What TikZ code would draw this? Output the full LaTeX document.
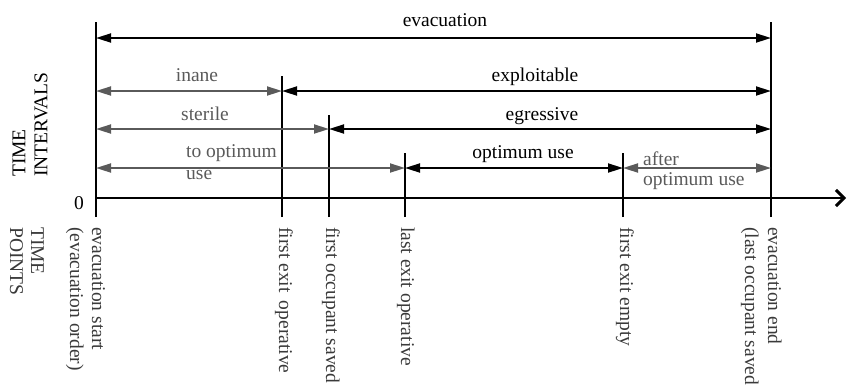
\documentclass[tikz,border=0pt]{standalone}
\usepackage{fontspec}
\setmainfont{Liberation Serif}
\usetikzlibrary{arrows.meta}
\definecolor{gr}{HTML}{5A5A5A}
\definecolor{lbl}{HTML}{3A3A3A}
\begin{document}
\begin{tikzpicture}[x=1pt,y=-1pt,
  every node/.style={inner sep=0pt, font=\fontsize{19.5}{21}\selectfont},
  ivlbk/.style={line width=1.8pt, black, {Triangle[length=15pt,width=9pt]}-{Triangle[length=15pt,width=9pt]}},
  ivlgr/.style={ivlbk, gr},
  tickln/.style={line width=1.2pt, black},
  axisln/.style={line width=2pt, black, -{Straight Barb[length=8pt,width=16pt,line width=3pt]}},
  toplbl/.style={anchor=base},
  ptlbl/.style={rotate=-90, anchor=west, lbl, text height=13pt, text depth=4pt},
  grlbl/.style={anchor=base, gr}]
\useasboundingbox (0,0) rectangle (855,384);

% tick coordinates
\coordinate (b0) at (96,217);   \coordinate (u0) at (96,22);
\coordinate (b1) at (282,217);  \coordinate (u1) at (282,76);
\coordinate (b2) at (329,217);  \coordinate (u2) at (329,115);
\coordinate (b3) at (405,217);  \coordinate (u3) at (405,153);
\coordinate (b4) at (623,217);  \coordinate (u4) at (623,153);
\coordinate (b5) at (771,217);  \coordinate (u5) at (771,22);
\coordinate (ax0) at (96,198);  \coordinate (ax1) at (846,198);

% ticks and axis
\foreach \i in {0,...,5} \draw[tickln] (b\i) -- (u\i);
\draw[axisln] (ax0) -- (ax1);

% interval arrow ends
\coordinate (e0) at (96,38);  \coordinate (e5) at (771,38);
\coordinate (i0) at (96,91);  \coordinate (i1) at (282,91); \coordinate (i5) at (771,91);
\coordinate (s0) at (96,129); \coordinate (s2) at (329,129); \coordinate (s5) at (771,129);
\coordinate (o0) at (96,168); \coordinate (o3) at (405,168); \coordinate (o4) at (623,168); \coordinate (o5) at (771,168);

\draw[ivlbk] (e0) -- (e5);
\draw[ivlgr] (i0) -- (i1);
\draw[ivlbk] (i1) -- (i5);
\draw[ivlgr] (s0) -- (s2);
\draw[ivlbk] (s2) -- (s5);
\draw[ivlgr] (o0) -- (o3);
\draw[ivlbk] (o3) -- (o4);
\draw[ivlgr] (o4) -- (o5);

% interval labels
\node[toplbl] (levac) at (445,26.5) {evacuation};
\node[grlbl] (linane) at (197,81.5) {inane};
\node[toplbl] (lexpl) at (535,81.5) {exploitable};
\node[grlbl] (lster) at (205,120) {sterile};
\node[toplbl] (legr) at (542,120) {egressive};
\node[grlbl, anchor=base west] (lto1) at (186,157.5) {to optimum};
\node[grlbl, anchor=base west] (lto2) at (186,179) {use};
\node[toplbl] (lopt) at (523,158) {optimum use};
\node[grlbl, anchor=base west] (laft1) at (643,165) {after};
\node[grlbl, anchor=base west] (laft2) at (643,185.5) {optimum use};

\node (zero) at (79,203) {0};

% axis titles
\node[rotate=90, anchor=west] (ti1) at (19,177) {TIME};
\node[rotate=90, anchor=west] (ti2) at (41,177) {INTERVALS};
\node[rotate=-90, anchor=west, lbl] (tp1) at (37.5,227) {TIME};
\node[rotate=-90, anchor=west, lbl] (tp2) at (16.5,227) {POINTS};

% time point labels
\node[ptlbl] (p0a) at (96.5,227) {evacuation start};
\node[ptlbl] (p0b) at (74.5,227) {(evacuation order)};
\node[ptlbl] (p1) at (283.5,227) {first exit\, operative};
\node[ptlbl] (p2) at (330.5,227) {first occupant saved};
\node[ptlbl] (p3) at (405.5,227) {last exit operative};
\node[ptlbl] (p4) at (624.5,227) {first exit empty};
\node[ptlbl] (p5a) at (772.5,227) {evacuation end};
\node[ptlbl] (p5b) at (749.5,227) {(last occupant saved)};
\end{tikzpicture}
\end{document}
